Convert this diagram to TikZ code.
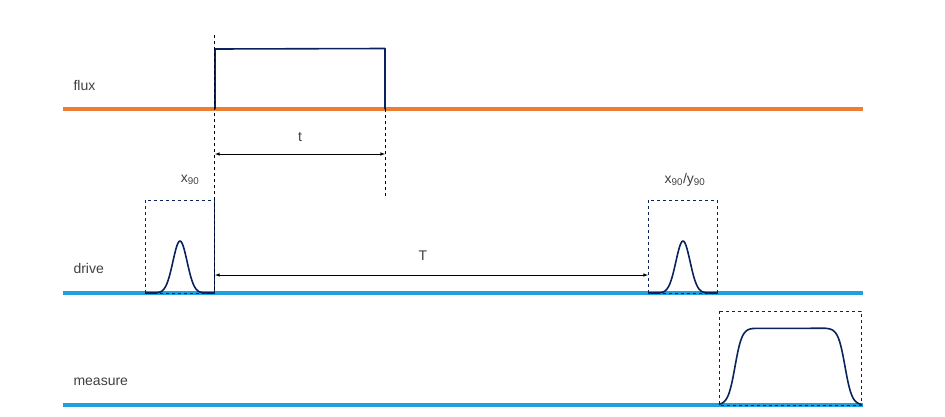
\documentclass[tikz,border=0pt]{standalone}
\usepackage{fontspec}
\setmainfont{Liberation Sans}
\begin{document}
\begin{tikzpicture}[x=1pt,y=-1pt,
  base/.style={line width=3.5pt},
  pulse/.style={draw=navy,line width=1.6pt,line join=round},
  box/.style={draw=navy,dashed,line width=0.6pt},
  guide/.style={draw=black,dashed,line width=0.6pt},
  dim/.style={draw=black,line width=0.6pt,<->,>=latex},
  lab/.style={text=black!75,font=\fontsize{14}{14}\selectfont}]
\definecolor{navy}{RGB}{10,35,90}
\definecolor{fluxc}{RGB}{237,125,49}
\definecolor{drvc}{RGB}{30,160,220}
\useasboundingbox (0,0) rectangle (945,416);
% base lines
\coordinate (f0) at (63,109); \coordinate (f1) at (863,109);
\coordinate (d0) at (63,293); \coordinate (d1) at (863,293);
\coordinate (m0) at (63,405); \coordinate (m1) at (863,405);
\draw[base,fluxc] (f0) -- (f1);
\draw[base,drvc] (d0) -- (d1);
\draw[base,drvc] (m0) -- (m1);
\node[lab,anchor=west] (lflux) at (70,85) {flux};
\node[lab,anchor=west] (ldrive) at (70,268) {drive};
\node[lab,anchor=west] (lmeas) at (70,382) {measure};
% flux pulse
\draw[pulse] (215,109) -- (215,49) -- (385,48.5) -- (385,109);
% guides
\coordinate (g1a) at (214,35); \coordinate (g1b) at (214,293);
\coordinate (g2a) at (385,109); \coordinate (g2b) at (385,198);
\draw[guide] (g1a) -- (g1b);
\draw[guide] (g2a) -- (g2b);
% t arrow
\coordinate (ta) at (215,154); \coordinate (tb) at (385,154);
\draw[dim] (ta) -- (tb);
\node[lab] (tl) at (300,137) {t};
% T arrow
\coordinate (Ta) at (215,275); \coordinate (Tb) at (648,275);
\draw[dim] (Ta) -- (Tb);
\node[lab] (Tl) at (423,256) {T};
% drive boxes
\draw[box] (145,200) rectangle (214,293);
\draw[pulse] plot[domain=-35:34,samples=70] ({180+\x},{293-52*exp(-(\x/10)^2)});
\node[lab] (x1) at (190,180) {x\textsubscript{90}};
\draw[box] (648,200) rectangle (717,293);
\draw[pulse] plot[domain=-35:34,samples=70] ({683+\x},{293-52*exp(-(\x/10)^2)});
\node[lab] (x2) at (685,180) {x\textsubscript{90}/y\textsubscript{90}};
% measure
\draw[box] (719,311) rectangle (861,405);
\draw[pulse] plot[domain=-16:18,samples=50] ({735+\x},{405-77/(1+exp(-\x/3.5))})
  -- plot[domain=-20:16,samples=50] ({845+\x},{405-77/(1+exp(\x/3.5))});
\end{tikzpicture}
\end{document}
